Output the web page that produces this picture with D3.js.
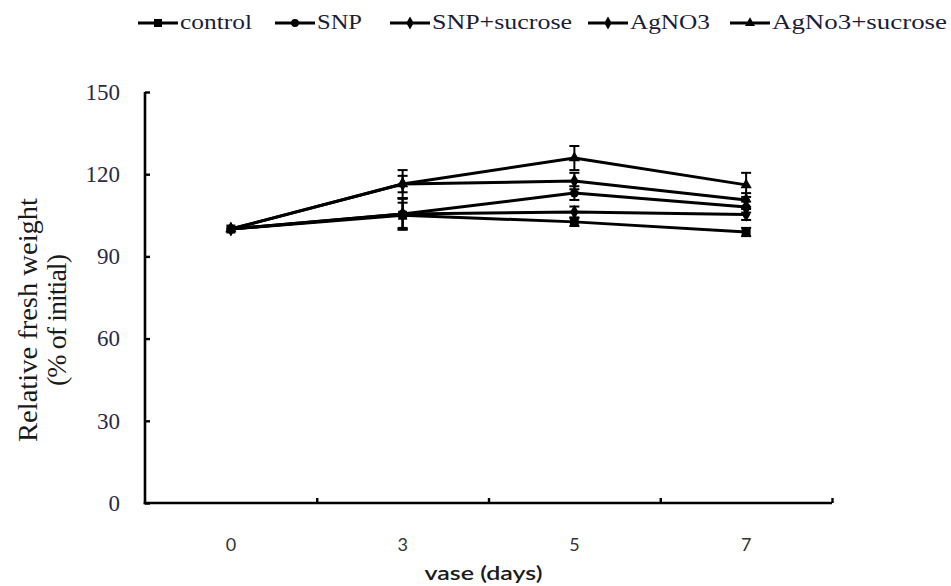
<!DOCTYPE html>
<html>
<head>
<meta charset="utf-8">
<script src="https://cdn.jsdelivr.net/npm/d3@7"></script>
<style>
  body { margin: 0; background: #fff; }
  svg { display: block; }
</style>
</head>
<body>
<div id="chart"></div>
<script>
const width = 951;
const height = 586;

// data
const days = ["0", "3", "5", "7"];
const seriesNames = ["control", "SNP", "SNP+sucrose", "AgNO3", "AgNo3+sucrose"];
const control = [100, 105, 102.6, 98.9];
const snp = [100, 105.5, 113.1, 108];
const snpSucrose = [100, 116.4, 117.5, 110.6];
const agno3 = [100, 105.5, 106.2, 105.3];
const agnoSucrose = [100, 116.4, 125.9, 116.1];
const controlErr = [0, 4.6, 1.5, 1.5];
const snpErr = [0, 5.8, 2.5, 2];
const snpSucroseErr = [0, 3, 3, 2.5];
const agno3Err = [0, 5.5, 2, 2];
const agnoSucroseErr = [0, 5.1, 4.4, 4.4];
const yTicks = [0, 30, 60, 90, 120, 150];

const series = [
  {name: seriesNames[0], values: control, err: controlErr, symbol: d3.symbolSquare, size: 80},
  {name: seriesNames[1], values: snp, err: snpErr, symbol: d3.symbolCircle, size: 60},
  {name: seriesNames[2], values: snpSucrose, err: snpSucroseErr, symbol: d3.symbolDiamond, size: 60},
  {name: seriesNames[3], values: agno3, err: agno3Err, symbol: d3.symbolDiamond, size: 60},
  {name: seriesNames[4], values: agnoSucrose, err: agnoSucroseErr, symbol: d3.symbolTriangle, size: 55}
];

const margin = ({top: 92, right: 119, bottom: 83, left: 145});

const svg = d3.select("#chart").append("svg")
  .attr("width", width)
  .attr("height", height);

const x = d3.scaleBand()
  .domain(days)
  .range([margin.left, width - margin.right]);

const y = d3.scaleLinear()
  .domain([0, 150])
  .range([height - margin.bottom, margin.top]);

// boundaries of the category bands, for the x ticks
const xb = d3.scaleLinear()
  .domain([0, days.length])
  .range([margin.left, width - margin.right]);

const cx = d => x(d) + x.bandwidth() / 2;

// y axis, ticks pointing inward
svg.append("g")
  .attr("transform", `translate(${margin.left},0)`)
  .call(d3.axisLeft(y).tickValues(yTicks).tickSizeInner(-5).tickSizeOuter(0).tickPadding(25))
  .call(g => g.select(".domain").attr("stroke-width", 2.6).attr("d", `M0,${y(150)}V${y(0) + 1.3}`))
  .call(g => g.selectAll(".tick line").attr("stroke-width", 2.4))
  .call(g => g.selectAll(".tick text")
    .attr("font-family", "'Liberation Serif', serif")
    .attr("font-size", 23)
    .attr("fill", "#2a2a48"));

// x axis line and boundary ticks
svg.append("g")
  .attr("transform", `translate(0,${y(0)})`)
  .call(d3.axisBottom(xb).tickValues(d3.range(1, days.length + 1)).tickSizeInner(-5).tickSizeOuter(0).tickFormat(""))
  .call(g => g.select(".domain").attr("stroke-width", 2.6).attr("d", `M${margin.left - 1.3},0H${width - margin.right}`))
  .call(g => g.selectAll(".tick line").attr("stroke-width", 2.4));

// x labels centred in the bands
svg.append("g")
  .attr("transform", `translate(0,${y(0)})`)
  .call(d3.axisBottom(x).tickSize(0).tickPadding(35))
  .call(g => g.select(".domain").remove())
  .call(g => g.selectAll(".tick text")
    .attr("font-family", "Lato, 'Open Sans', sans-serif")
    .attr("font-size", 18)
    .attr("fill", "#333"));

// axis titles
svg.append("text")
  .attr("x", (margin.left + width - margin.right) / 2 - 5)
  .attr("y", 580)
  .attr("text-anchor", "middle")
  .attr("font-family", "Lato, 'Open Sans', sans-serif")
  .attr("font-size", 20)
  .attr("font-weight", 600)
  .attr("textLength", 118)
  .attr("lengthAdjust", "spacingAndGlyphs")
  .attr("fill", "#1a1a1a")
  .text("vase (days)");

const yTitle = svg.append("text")
  .attr("transform", "translate(37,320) rotate(-90)")
  .attr("text-anchor", "middle")
  .attr("font-family", "'Liberation Serif', serif")
  .attr("font-size", 28)
  .attr("fill", "#1a1a1a");
yTitle.append("tspan")
  .attr("x", 0).attr("y", 0)
  .attr("textLength", 244)
  .attr("lengthAdjust", "spacingAndGlyphs")
  .text("Relative fresh weight");
yTitle.append("tspan")
  .attr("x", 0).attr("y", 29)
  .attr("textLength", 132)
  .attr("lengthAdjust", "spacing")
  .text("(% of initial)");

const line = d3.line()
  .x((d, i) => cx(days[i]))
  .y(d => y(d));

// error bars
series.forEach(s => {
  const g = svg.append("g").attr("stroke", "black").attr("stroke-width", 2);
  s.values.forEach((v, i) => {
    if (!s.err[i]) return;
    const px = cx(days[i]);
    g.append("line")
      .attr("x1", px).attr("x2", px)
      .attr("y1", y(v - s.err[i])).attr("y2", y(v + s.err[i]));
    [v - s.err[i], v + s.err[i]].forEach(e => {
      g.append("line")
        .attr("x1", px - 5).attr("x2", px + 5)
        .attr("y1", y(e)).attr("y2", y(e));
    });
  });
});

// lines
series.forEach(s => {
  svg.append("path")
    .datum(s.values)
    .attr("fill", "none")
    .attr("stroke", "black")
    .attr("stroke-width", 3)
    .attr("stroke-linejoin", "round")
    .attr("d", line);
});

// markers
series.forEach(s => {
  svg.append("g")
    .selectAll("path")
    .data(s.values)
    .join("path")
      .attr("transform", (d, i) => `translate(${cx(days[i])},${y(d)})`)
      .attr("d", d3.symbol(s.symbol, s.size))
      .attr("fill", "black");
});

// legend
const legendX = [138, 275, 390, 588, 730];
const legendLen = [72, 45, 140, 80, 175];
const legend = svg.append("g").attr("transform", "translate(0,23)");
series.forEach((s, i) => {
  const g = legend.append("g").attr("transform", `translate(${legendX[i]},0)`);
  g.append("line")
    .attr("x1", 0).attr("x2", 40)
    .attr("stroke", "black").attr("stroke-width", 3);
  g.append("path")
    .attr("transform", "translate(20,0)")
    .attr("d", d3.symbol(s.symbol, s.size * 0.8))
    .attr("fill", "black");
  g.append("text")
    .attr("x", 42)
    .attr("y", 6)
    .attr("font-family", "'Liberation Serif', serif")
    .attr("font-size", 22)
    .attr("textLength", legendLen[i])
    .attr("lengthAdjust", "spacingAndGlyphs")
    .attr("fill", "#1c1c3a")
    .text(s.name);
});
</script>
</body>
</html>
